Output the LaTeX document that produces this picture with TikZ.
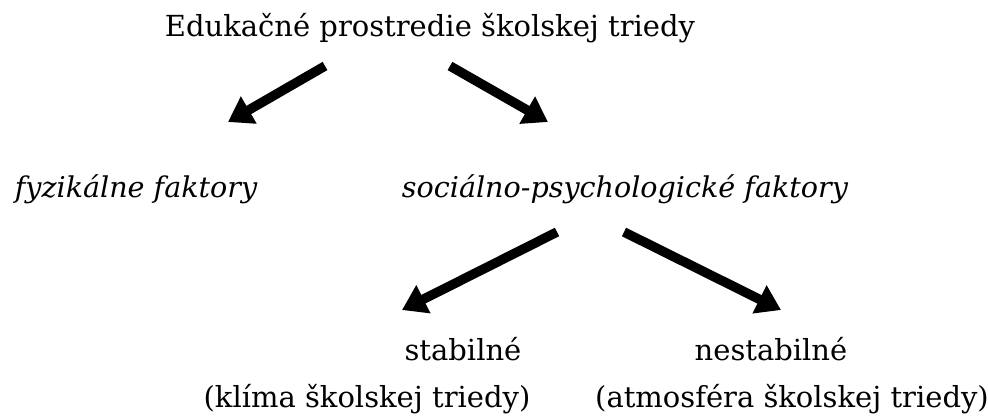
\documentclass[tikz,border=0pt]{standalone}
\usepackage{fontspec}
\setmainfont{DejaVu Serif}
\usetikzlibrary{arrows.meta}

\begin{document}
\begin{tikzpicture}[
  x=1pt, y=-1pt,
  label/.style={
    inner sep=0pt, anchor=base,
    font=\fontsize{29}{34}\selectfont
  },
  factor/.style={label, font=\fontsize{28.6}{34}\selectfont\itshape},
  bigarrow/.style={
    line width=9.5pt,
    -{Triangle[length=24pt,width=30pt]}
  }
]
\useasboundingbox (0,0) rectangle (988,417);

% texts
\node [label] (title) at (430,37) {Edukačné prostredie školskej triedy};
\node [factor] (fyz) at (136,197) {fyzikálne faktory};
\node [factor] (soc) at (625,197) {sociálno-psychologické faktory};
\node [label] (stab) at (463,360) {stabilné};
\node [label] (nestab) at (771,360) {nestabilné};
\node [label] (klima) at (367,407) {(klíma školskej triedy)};
\node [label] (atmos) at (792,407) {(atmosféra školskej triedy)};

% arrow ends
\coordinate (tl) at (325,66);
\coordinate (fl) at (228,122);
\coordinate (tr) at (450,66);
\coordinate (sr) at (548,122);
\coordinate (sl) at (557,232);
\coordinate (st) at (402,310);
\coordinate (sn) at (624,232);
\coordinate (ns) at (781,310);

\draw [bigarrow] (tl) -- (fl);
\draw [bigarrow] (tr) -- (sr);
\draw [bigarrow] (sl) -- (st);
\draw [bigarrow] (sn) -- (ns);
\end{tikzpicture}
\end{document}
